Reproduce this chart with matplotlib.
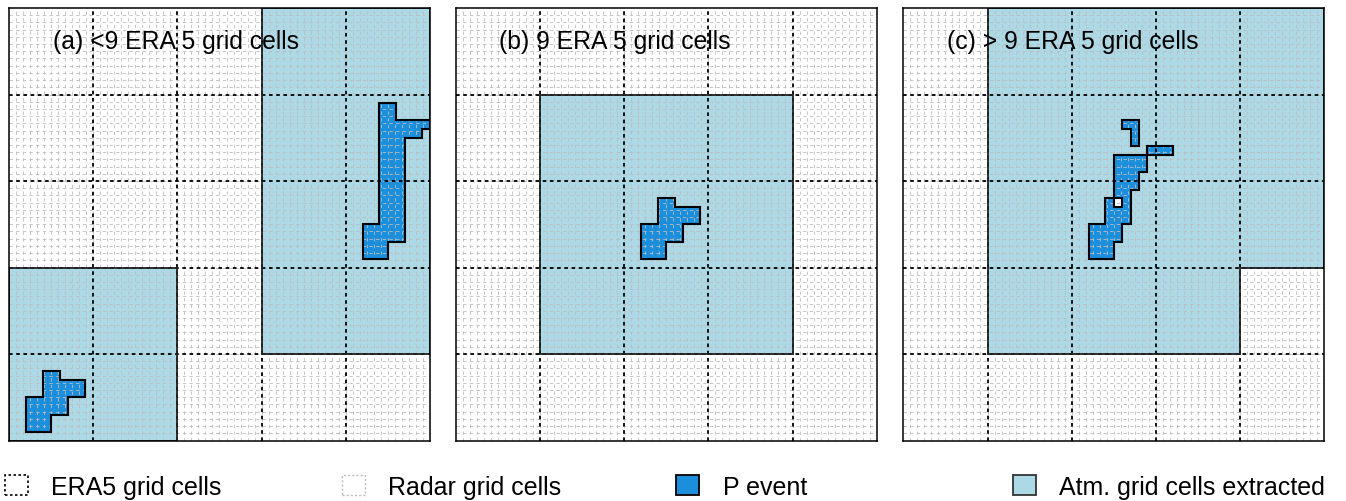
import matplotlib.pyplot as plt
from matplotlib.patches import Polygon, Patch

plt.rcParams['font.family'] = ['Liberation Sans', 'DejaVu Sans']

n_era = 5        # ERA5 cells per side of each panel
n_radar = 12     # radar cells per ERA5 cell (for the fine grid)

titles = ['(a) <9 ERA 5 grid cells', '(b) 9 ERA 5 grid cells', '(c) > 9 ERA 5 grid cells']

# extracted atmospheric cells, outlines in ERA5 cell units
extract_a = [[(0, 0), (2, 0), (2, 2), (0, 2)],
             [(3, 1), (5, 1), (5, 5), (3, 5)]]
extract_b = [[(1, 1), (4, 1), (4, 4), (1, 4)]]
extract_c = [[(1, 1), (4, 1), (4, 2), (5, 2), (5, 5), (1, 5)]]

# precipitation events, outlines in ERA5 cell units
event_a1 = [(0.2, 0.1), (0.2, 0.5), (0.4, 0.5), (0.4, 0.8), (0.6, 0.8), (0.6, 0.7),
            (0.9, 0.7), (0.9, 0.5), (0.7, 0.5), (0.7, 0.3), (0.5, 0.3), (0.5, 0.1)]
event_a2 = [(4.4, 3.9), (4.6, 3.9), (4.6, 3.7), (5.0, 3.7), (5.0, 3.6), (4.9, 3.6),
            (4.9, 3.5), (4.7, 3.5), (4.7, 2.3), (4.5, 2.3), (4.5, 2.1), (4.2, 2.1),
            (4.2, 2.5), (4.4, 2.5)]
event_b = [(2.2, 2.1), (2.2, 2.5), (2.4, 2.5), (2.4, 2.8), (2.6, 2.8), (2.6, 2.7),
           (2.9, 2.7), (2.9, 2.5), (2.7, 2.5), (2.7, 2.3), (2.5, 2.3), (2.5, 2.1)]
event_c1 = [(2.6, 3.7), (2.8, 3.7), (2.8, 3.4), (2.7, 3.4), (2.7, 3.6), (2.6, 3.6)]
event_c2 = [(2.9, 3.3), (3.2, 3.3), (3.2, 3.4), (2.9, 3.4)]
event_c3 = [(2.5, 3.3), (2.9, 3.3), (2.9, 3.1), (2.8, 3.1), (2.8, 2.9), (2.7, 2.9),
            (2.7, 2.5), (2.6, 2.5), (2.6, 2.3), (2.5, 2.3), (2.5, 2.1), (2.2, 2.1),
            (2.2, 2.5), (2.4, 2.5), (2.4, 2.8), (2.5, 2.8)]
hole_c = [(2.5, 2.7), (2.6, 2.7), (2.6, 2.8), (2.5, 2.8)]

extracts = [extract_a, extract_b, extract_c]
events = [[event_a1, event_a2], [event_b], [event_c1, event_c2, event_c3]]
holes = [[], [], [hole_c]]

legend_labels = ['ERA5 grid cells', 'Radar grid cells', 'P event', 'Atm. grid cells extracted']

c_extract = '#add8e6'
c_event = '#1c8fdc'
c_radar = '#bdbdbd'

fig = plt.figure(figsize=(13.46, 5.02), dpi=100)
lefts = [9, 455.7, 903.3]

for k in range(3):
    ax = fig.add_axes([lefts[k] / 1346, 60.5 / 502, 421 / 1346, 432.5 / 502])
    ax.set_xlim(0, n_era)
    ax.set_ylim(0, n_era)
    ax.set_xticks([])
    ax.set_yticks([])
    for s in ax.spines.values():
        s.set_linewidth(1.1)
        s.set_zorder(8)

    for poly in extracts[k]:
        ax.add_patch(Polygon(poly, closed=True, facecolor=c_extract, edgecolor='none', zorder=1))
    for poly in events[k]:
        ax.add_patch(Polygon(poly, closed=True, facecolor=c_event, edgecolor='none', zorder=2))
    for poly in holes[k]:
        ax.add_patch(Polygon(poly, closed=True, facecolor='white', edgecolor='none', zorder=2))

    # radar grid
    for i in range(1, n_era * n_radar):
        v = i / n_radar
        ax.axvline(v, color=c_radar, lw=0.6, ls=(0, (4, 4)), zorder=3)
        ax.axhline(v, color=c_radar, lw=0.6, ls=(0, (4, 4)), zorder=3)
    # ERA5 grid
    for i in range(1, n_era):
        ax.axvline(i, color='black', lw=1.3, ls=(0, (2, 2)), zorder=4)
        ax.axhline(i, color='black', lw=1.3, ls=(0, (2, 2)), zorder=4)

    for poly in extracts[k]:
        ax.add_patch(Polygon(poly, closed=True, facecolor='none', edgecolor='#222222', lw=1.3, zorder=5))
    for poly in events[k] + holes[k]:
        ax.add_patch(Polygon(poly, closed=True, facecolor='none', edgecolor='black', lw=1.5, zorder=6))

    ax.text(0.52, 4.62, titles[k], fontsize=17.8, ha='left', va='center', zorder=7)

handles = [
    Patch(facecolor='white', edgecolor='black', lw=1.2, ls=(0, (1.5, 1.5))),
    Patch(facecolor='white', edgecolor='#bbbbbb', lw=1.0, ls=(0, (1.5, 1.5))),
    Patch(facecolor=c_event, edgecolor='black', lw=1.3),
    Patch(facecolor=c_extract, edgecolor='#333333', lw=1.3),
]
leg_x = [4.5, 341.5, 676, 1012.6]
for h, lab, x in zip(handles, legend_labels, leg_x):
    fig.legend([h], [lab], loc='center left', bbox_to_anchor=(x / 1346, 1 - 488 / 502),
               frameon=False, fontsize=18, borderpad=0, borderaxespad=0,
               handlelength=0.92, handleheight=0.85, handletextpad=0.95)

fig.savefig('out.png', dpi=100)
